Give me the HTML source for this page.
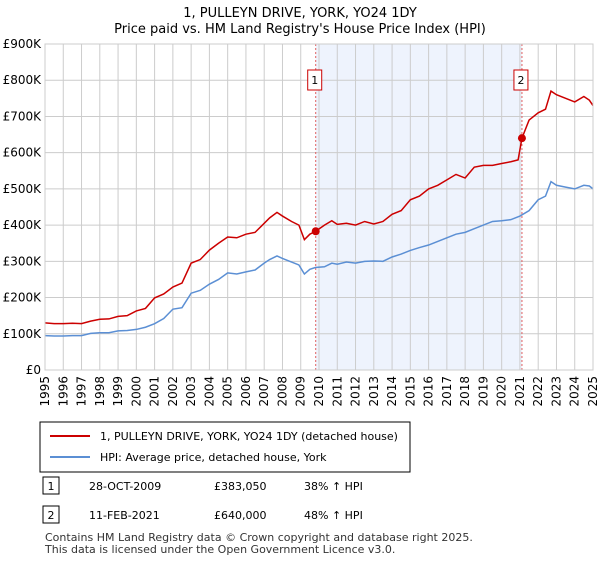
<!DOCTYPE html>
<html><head><meta charset="utf-8"><style>
body{margin:0;background:#fff;font-family:"Liberation Sans","DejaVu Sans",sans-serif;}
svg text{font-family:"DejaVu Sans","Liberation Sans",sans-serif;}
</style></head><body>
<svg width="600" height="560" viewBox="0 0 600 560">
<text x="300" y="17" text-anchor="middle" font-size="13">1, PULLEYN DRIVE, YORK, YO24 1DY</text>
<text x="300" y="33" text-anchor="middle" font-size="13">Price paid vs. HM Land Registry's House Price Index (HPI)</text>
<g id="plot"></g>
<rect x="40" y="422" width="370" height="50" fill="#fff" stroke="#000"/>
<line x1="50" y1="436" x2="90" y2="436" stroke="#cc0000" stroke-width="2"/>
<text x="100" y="440" font-size="11">1, PULLEYN DRIVE, YORK, YO24 1DY (detached house)</text>
<line x1="50" y1="457" x2="90" y2="457" stroke="#5b8fd4" stroke-width="2"/>
<text x="100" y="461" font-size="11">HPI: Average price, detached house, York</text>
<rect x="43" y="477" width="16" height="17" fill="#fff" stroke="#000"/>
<text x="51" y="490" font-size="11" text-anchor="middle">1</text>
<text x="89" y="490" font-size="11">28-OCT-2009</text>
<text x="214" y="490" font-size="11">£383,050</text>
<text x="304" y="490" font-size="11">38% ↑ HPI</text>
<rect x="43" y="506" width="16" height="17" fill="#fff" stroke="#000"/>
<text x="51" y="519" font-size="11" text-anchor="middle">2</text>
<text x="89" y="519" font-size="11">11-FEB-2021</text>
<text x="214" y="519" font-size="11">£640,000</text>
<text x="304" y="519" font-size="11">48% ↑ HPI</text>
<text x="45" y="541" font-size="11" fill="#333">Contains HM Land Registry data © Crown copyright and database right 2025.</text>
<text x="45" y="553" font-size="11" fill="#333">This data is licensed under the Open Government Licence v3.0.</text>
</svg>
<script>
const yTicks=[0,100,200,300,400,500,600,700,800,900];
const yTickLabels=["£0","£100K","£200K","£300K","£400K","£500K","£600K","£700K","£800K","£900K"];
const xTicks=[1995,1996,1997,1998,1999,2000,2001,2002,2003,2004,2005,2006,2007,2008,2009,2010,2011,2012,2013,2014,2015,2016,2017,2018,2019,2020,2021,2022,2023,2024,2025];
const hpiYears=[1995,1995.5,1996,1996.5,1997,1997.5,1998,1998.5,1999,1999.5,2000,2000.5,2001,2001.5,2002,2002.5,2003,2003.5,2004,2004.5,2005,2005.5,2006,2006.5,2007,2007.3,2007.7,2008,2008.5,2008.9,2009.2,2009.5,2009.8,2010.3,2010.7,2011,2011.5,2012,2012.5,2013,2013.5,2014,2014.5,2015,2015.5,2016,2016.5,2017,2017.5,2018,2018.5,2019,2019.5,2020,2020.5,2021,2021.5,2022,2022.4,2022.7,2023,2023.5,2024,2024.5,2024.8,2025];
const hpiValues=[95,94,94,95,95,101,103,103,108,109,112,118,128,142,168,172,212,220,237,250,268,265,271,276,295,305,315,308,298,290,265,278,283,285,295,292,298,295,300,301,300,312,320,330,338,345,355,365,375,380,390,400,410,412,415,425,440,470,480,520,510,505,500,510,508,500];
const priceYears=[1995,1995.5,1996,1996.5,1997,1997.5,1998,1998.5,1999,1999.5,2000,2000.5,2001,2001.5,2002,2002.5,2003,2003.5,2004,2004.5,2005,2005.5,2006,2006.5,2007,2007.3,2007.7,2008,2008.5,2008.9,2009.2,2009.5,2009.82,2010.3,2010.7,2011,2011.5,2012,2012.5,2013,2013.5,2014,2014.5,2015,2015.5,2016,2016.5,2017,2017.5,2018,2018.5,2019,2019.5,2020,2020.5,2020.9,2021.11,2021.5,2022,2022.4,2022.7,2023,2023.5,2024,2024.5,2024.8,2025];
const priceValues=[130,128,128,129,128,135,140,141,148,150,163,170,199,210,229,240,295,305,331,350,367,365,375,380,405,420,435,425,410,400,360,375,383,400,412,402,405,400,410,403,410,430,440,470,480,500,510,525,540,530,560,565,565,570,575,580,640,690,710,720,770,760,750,740,755,745,730];
</script>
<script>
const NS="http://www.w3.org/2000/svg";
const L=45,R=593,T=44,B=370;
const xs=y=>L+(y-1995)/30*(R-L);
const ys=v=>B-v/900*(B-T);
const g=document.getElementById('plot');
function mk(t,a){const e=document.createElementNS(NS,t);for(const k in a)e.setAttribute(k,a[k]);g.appendChild(e);return e;}
const sh=mk('rect',{x:xs(2009.82),y:T,width:xs(2021.11)-xs(2009.82),height:B-T,fill:'#eef3fd'});


yTicks.forEach((v,i)=>{
 const l=mk('line',{x1:L,x2:R,y1:ys(v),y2:ys(v),stroke:'#cccccc'});
 
 
 const t=mk('text',{x:L-4,y:ys(v)+4,'text-anchor':'end','font-size':12});
 t.textContent=yTickLabels[i];
 
 
});
xTicks.forEach(y=>{
 const l=mk('line',{x1:xs(y),x2:xs(y),y1:T,y2:B,stroke:'#cccccc'});
 
 
 const t=mk('text',{x:0,y:0,'text-anchor':'end','font-size':12,transform:`translate(${xs(y)+4},${B+6}) rotate(-90)`});
 t.textContent=y;
 
 
});
[[2009.82,'1'],[2021.11,'2']].forEach(([y,n])=>{
 const l=mk('line',{x1:xs(y),x2:xs(y),y1:T,y2:B,stroke:'#e06060','stroke-dasharray':'2,2'});
 
 
 const b=mk('rect',{x:xs(y)-8,y:70,width:14,height:20,fill:'#fff',stroke:'#cc0000'});
 
 
 const t=mk('text',{x:xs(y)-1,y:84,'text-anchor':'middle','font-size':11});
 t.textContent=n;
});
const hp=mk('polyline',{points:hpiYears.map((y,i)=>xs(y)+','+ys(hpiValues[i])).join(' '),fill:'none',stroke:'#5b8fd4','stroke-width':1.5});


const pp=mk('polyline',{points:priceYears.map((y,i)=>xs(y)+','+ys(priceValues[i])).join(' '),fill:'none',stroke:'#cc0000','stroke-width':1.5});


[[2009.82,383.05],[2021.11,640]].forEach(([y,v],i)=>{
 const c=mk('circle',{cx:xs(y),cy:ys(v),r:4,fill:'#cc0000'});
 
 
});
mk('rect',{x:L,y:T,width:R-L,height:B-T,fill:'none',stroke:'#cccccc'});
</script>
</body></html>
